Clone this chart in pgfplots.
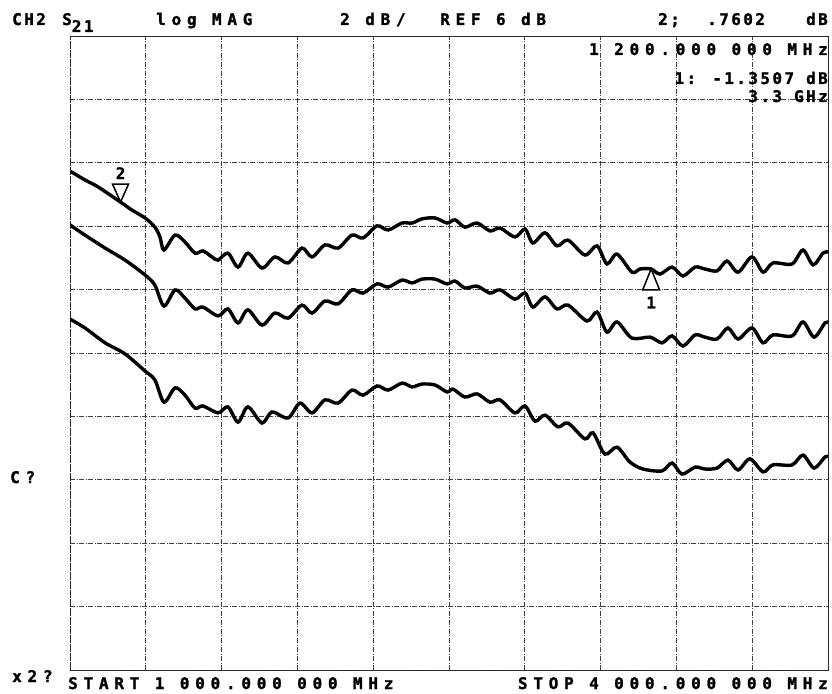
\documentclass[border=0pt]{standalone}
\usepackage{pgfplots}
\pgfplotsset{compat=1.18}
\usepackage{fontspec}
\newfontfamily\plotfont{DejaVu Sans Mono Bold}[LetterSpace=36, FakeBold=1.5]

% marker triangles, tip on the trace
\pgfdeclareplotmark{mkdown}{%
  \pgfpathmoveto{\pgfpoint{0pt}{0pt}}%
  \pgfpathlineto{\pgfpoint{-8pt}{18pt}}%
  \pgfpathlineto{\pgfpoint{8pt}{18pt}}%
  \pgfpathclose\pgfusepathqfillstroke}
\pgfdeclareplotmark{mkup}{%
  \pgfpathmoveto{\pgfpoint{0pt}{0pt}}%
  \pgfpathlineto{\pgfpoint{-8.5pt}{-21pt}}%
  \pgfpathlineto{\pgfpoint{8.5pt}{-21pt}}%
  \pgfpathclose\pgfusepathqfillstroke}

\tikzset{lbl/.style={font=\plotfont\fontsize{16}{18}\selectfont, inner sep=0pt},
  lbltight/.style={lbl, font=\plotfont\addfontfeature{LetterSpace=15}\fontsize{16}{18}\selectfont},
  trace/.style={black, line width=3.4pt, smooth, tension=0.5, no markers}}

\begin{document}
\begin{tikzpicture}
\begin{axis}[
    scale only axis,
    width=758pt, height=634pt,
    xmin=1, xmax=4, ymin=-14, ymax=6,
    xtick={1,1.3,1.6,1.9,2.2,2.5,2.8,3.1,3.4,3.7,4},
    ytick={-14,-12,-10,-8,-6,-4,-2,0,2,4,6},
    xticklabels={}, yticklabels={},
    major tick length=0pt,
    grid=major,
    grid style={black!75, line width=0.7pt, dash pattern=on 5pt off 1.5pt on 1pt off 1.5pt},
    axis line style={black!85, line width=0.9pt, dash pattern=on 8pt off 1pt},
]

% trace A (top)
\addplot[trace] coordinates {
(1.000,1.74) (1.059,1.46) (1.111,1.24) (1.200,0.76) (1.245,0.51) (1.297,0.26)
(1.336,-0.03) (1.356,-0.34) (1.372,-0.75) (1.416,-0.28) (1.455,-0.50) (1.495,-0.85)
(1.526,-0.78) (1.562,-0.97) (1.586,-1.07) (1.625,-0.85) (1.665,-1.29) (1.704,-0.85)
(1.760,-1.32) (1.811,-0.97) (1.863,-1.16) (1.918,-0.69) (1.958,-0.97) (2.009,-0.59)
(2.061,-0.69) (2.116,-0.28) (2.160,-0.37) (2.215,0.01) (2.259,-0.12) (2.314,0.10)
(2.354,0.10) (2.393,0.23) (2.445,0.26) (2.492,0.10) (2.524,0.20) (2.563,-0.03)
(2.611,0.10) (2.662,-0.15) (2.702,-0.06) (2.761,-0.34) (2.801,-0.09) (2.832,-0.53)
(2.880,-0.21) (2.927,-0.62) (2.971,-0.44) (3.038,-0.91) (3.086,-0.62) (3.125,-1.19)
(3.165,-0.88) (3.224,-1.45) (3.256,-1.35) (3.300,-1.35) (3.335,-1.51) (3.383,-1.29)
(3.426,-1.57) (3.474,-1.29) (3.513,-1.35) (3.561,-1.41) (3.600,-1.10) (3.644,-1.45)
(3.699,-0.97) (3.743,-1.45) (3.782,-1.16) (3.858,-1.19) (3.901,-0.75) (3.941,-1.22)
(3.980,-0.85) (4.000,-0.81)
};

% trace B (middle)
\addplot[trace] coordinates {
(1.000,0.04) (1.059,-0.28) (1.139,-0.69) (1.218,-1.07) (1.297,-1.54) (1.336,-1.86)
(1.372,-2.52) (1.416,-2.01) (1.455,-2.27) (1.495,-2.61) (1.526,-2.55) (1.586,-2.83)
(1.625,-2.61) (1.665,-3.05) (1.704,-2.64) (1.760,-3.12) (1.811,-2.74) (1.863,-2.90)
(1.918,-2.49) (1.958,-2.74) (2.009,-2.36) (2.061,-2.45) (2.116,-2.01) (2.160,-2.11)
(2.215,-1.82) (2.259,-1.92) (2.314,-1.70) (2.354,-1.79) (2.393,-1.67) (2.445,-1.67)
(2.492,-1.82) (2.524,-1.73) (2.563,-1.95) (2.611,-1.89) (2.662,-2.11) (2.702,-2.01)
(2.761,-2.30) (2.801,-2.11) (2.832,-2.55) (2.880,-2.23) (2.927,-2.61) (2.971,-2.49)
(3.046,-2.99) (3.086,-2.71) (3.125,-3.34) (3.165,-3.02) (3.224,-3.53) (3.296,-3.50)
(3.343,-3.68) (3.383,-3.46) (3.426,-3.78) (3.474,-3.43) (3.513,-3.50) (3.561,-3.56)
(3.604,-3.21) (3.644,-3.56) (3.699,-3.21) (3.743,-3.68) (3.782,-3.43) (3.858,-3.46)
(3.901,-3.02) (3.945,-3.50) (3.988,-3.05) (4.000,-3.05)
};

% trace C (bottom)
\addplot[trace] coordinates {
(1.000,-2.93) (1.059,-3.21) (1.139,-3.68) (1.218,-4.03) (1.297,-4.57) (1.336,-4.85)
(1.372,-5.55) (1.416,-5.10) (1.455,-5.33) (1.495,-5.74) (1.526,-5.67) (1.586,-5.89)
(1.625,-5.70) (1.665,-6.18) (1.704,-5.70) (1.760,-6.21) (1.799,-5.86) (1.863,-6.05)
(1.910,-5.58) (1.958,-5.89) (2.009,-5.48) (2.061,-5.58) (2.116,-5.17) (2.160,-5.33)
(2.215,-5.04) (2.259,-5.17) (2.314,-4.95) (2.354,-5.07) (2.393,-4.98) (2.445,-5.01)
(2.492,-5.23) (2.516,-5.14) (2.563,-5.39) (2.611,-5.29) (2.662,-5.55) (2.702,-5.48)
(2.761,-5.89) (2.801,-5.67) (2.840,-6.15) (2.880,-5.96) (2.931,-6.33) (2.971,-6.21)
(3.038,-6.71) (3.070,-6.52) (3.117,-7.19) (3.165,-6.97) (3.216,-7.44) (3.268,-7.66)
(3.343,-7.72) (3.383,-7.47) (3.422,-7.82) (3.474,-7.60) (3.513,-7.66) (3.561,-7.63)
(3.604,-7.38) (3.644,-7.69) (3.691,-7.34) (3.743,-7.75) (3.782,-7.53) (3.858,-7.53)
(3.901,-7.22) (3.945,-7.63) (3.988,-7.28) (4.000,-7.28)
};

% marker 2 and marker 1
\addplot[only marks, black, mark=mkdown, line width=1.5pt, mark options={fill=white, solid},
    point meta=explicit symbolic,
    nodes near coords, every node near coord/.style={lbl, anchor=base, yshift=23pt}]
    coordinates {(1.2,0.76) [2]};
\addplot[only marks, black, mark=mkup, line width=1.5pt, mark options={fill=white, solid},
    point meta=explicit symbolic,
    nodes near coords, every node near coord/.style={lbl, anchor=north, yshift=-27pt}]
    coordinates {(3.3,-1.35) [1]};
\end{axis}

% annotation text of the analyzer plot (axis SW corner at origin)
\node[lbltight, anchor=base west] at (-58pt,645pt) {CH2};
\node[lbltight, anchor=base west] at (-8pt,645pt) {S\raisebox{-7pt}{21}};
\node[lbl, anchor=base west] at (86pt,645pt) {log MAG};
\node[lbl, anchor=base west] at (270pt,645pt) {2 dB/};
\node[lbl, anchor=base west] at (370pt,645pt) {REF 6 dB};
\node[lbltight, anchor=base west] at (588pt,645pt) {2;};
\node[lbltight, anchor=base west] at (637pt,645pt) {.7602};
\node[lbltight, anchor=base east] at (758pt,645pt) {dB};
\node[lbl, anchor=base east] at (758pt,615pt) {1 200.000 000 MHz};
\node[lbltight, anchor=base east] at (758pt,586pt) {1: -1.3507 dB};
\node[lbltight, anchor=base east] at (758pt,568pt) {3.3 GHz};
\node[lbl, anchor=base west] at (-60pt,187pt) {C?};
\node[lbl, anchor=base west] at (-58pt,-12pt) {x2?};
\node[lbl, anchor=base west] at (-2pt,-19pt) {START 1 000.000 000 MHz};
\node[lbl, anchor=base east] at (758pt,-19pt) {STOP 4 000.000 000 MHz};

\pgfresetboundingbox
\path (-70pt,-23pt) rectangle (762pt,670pt);
\end{tikzpicture}
\end{document}
